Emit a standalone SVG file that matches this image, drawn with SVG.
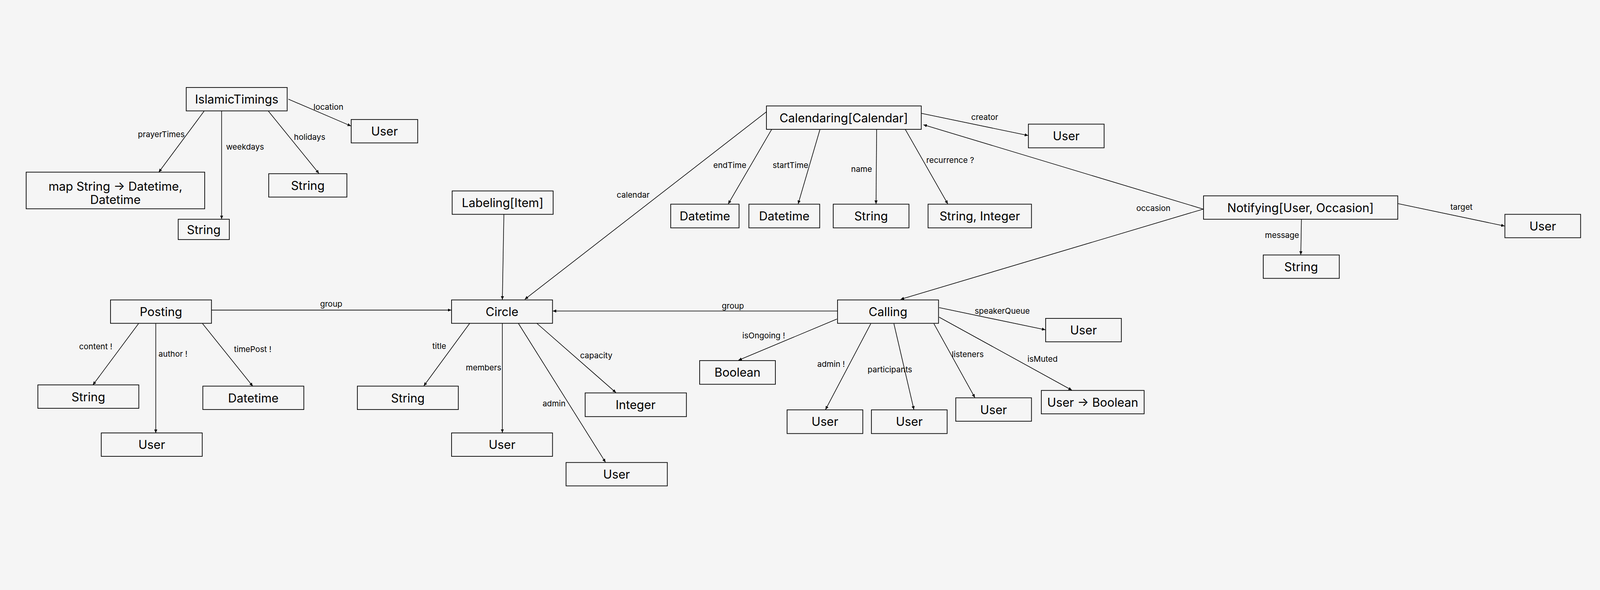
<svg xmlns="http://www.w3.org/2000/svg" width="5198" height="1510" viewBox="0 0 5198 1510">
<defs>
<marker id="arr" markerUnits="userSpaceOnUse" markerWidth="12" markerHeight="12" refX="11" refY="6" orient="auto">
<path d="M0,1 L11,6 L0,11 z" fill="#000"/>
</marker>
<style>
svg{width:100vw;height:100vh;background:#f5f5f5}
.n rect{fill:none;stroke:#000;stroke-width:2.3}
.n text{font-family:Inter,"Noto Sans",sans-serif;font-size:39px;fill:#000;text-anchor:middle;dominant-baseline:central}
.e line{stroke:#000;stroke-width:2;marker-end:url(#arr)}
.l text{font-family:Inter,"Noto Sans",sans-serif;font-size:26px;fill:#000;text-anchor:middle;dominant-baseline:central}
</style>
</defs>
<rect width="5198" height="1510" fill="#f5f5f5"/>
<g id="connectors" class="e">
<line x1="663" y1="158" x2="516" y2="356"/>
<line x1="720" y1="157" x2="720" y2="508"/>
<line x1="872" y1="158" x2="1036" y2="360"/>
<line x1="937" y1="119" x2="1140" y2="206"/>
<line x1="2490" y1="160" x2="1705" y2="769"/>
<line x1="2507" y1="217" x2="2366" y2="459"/>
<line x1="2664" y1="217" x2="2593" y2="459"/>
<line x1="2848" y1="217" x2="2846" y2="459"/>
<line x1="2941" y1="217" x2="3079" y2="459"/>
<line x1="2993" y1="165" x2="3340" y2="237"/>
<line x1="3909" y1="476" x2="3000" y2="202"/>
<line x1="3909" y1="476" x2="2926" y2="769"/>
<line x1="4541" y1="458" x2="4888" y2="531"/>
<line x1="4228" y1="509" x2="4226" y2="624"/>
<line x1="687" y1="804" x2="1466" y2="804"/>
<line x1="450" y1="848" x2="302" y2="1047"/>
<line x1="506" y1="848" x2="506" y2="1203"/>
<line x1="658" y1="848" x2="821" y2="1051"/>
<line x1="1637" y1="493" x2="1632" y2="770"/>
<line x1="1526" y1="847" x2="1377" y2="1050"/>
<line x1="1632" y1="847" x2="1632" y2="1202"/>
<line x1="1684" y1="847" x2="1967" y2="1298"/>
<line x1="1744" y1="847" x2="2001" y2="1072"/>
<line x1="2721" y1="807" x2="1796" y2="807"/>
<line x1="2719" y1="833" x2="2399" y2="967"/>
<line x1="2829" y1="848" x2="2682" y2="1127"/>
<line x1="2904" y1="848" x2="2969" y2="1127"/>
<line x1="3034" y1="848" x2="3167" y2="1088"/>
<line x1="3051" y1="827" x2="3482" y2="1064"/>
<line x1="3051" y1="796" x2="3396" y2="868"/>
</g>
<g id="edge-labels" class="l">
<text x="524" y="233">prayerTimes</text>
<text x="796" y="274">weekdays</text>
<text x="1006" y="242">holidays</text>
<text x="1067" y="144">location</text>
<text x="2057" y="429">calendar</text>
<text x="2371" y="333">endTime</text>
<text x="2568" y="333">startTime</text>
<text x="2799" y="346">name</text>
<text x="3087" y="317">recurrence ?</text>
<text x="3199" y="177">creator</text>
<text x="3747" y="473">occasion</text>
<text x="4748" y="469">target</text>
<text x="4165" y="560">message</text>
<text x="1076" y="784">group</text>
<text x="311" y="922">content !</text>
<text x="562" y="946">author !</text>
<text x="821" y="931">timePost !</text>
<text x="1427" y="921">title</text>
<text x="1571" y="990">members</text>
<text x="1800" y="1107">admin</text>
<text x="1937" y="951">capacity</text>
<text x="2381" y="790">group</text>
<text x="2481" y="886">isOngoing !</text>
<text x="2700" y="979">admin !</text>
<text x="2891" y="997">participants</text>
<text x="3144" y="947">listeners</text>
<text x="3387" y="962">isMuted</text>
<text x="3256" y="807">speakerQueue</text>
</g>
<g id="islamic-timings" class="n"><rect x="605" y="81" width="328" height="76"/><text x="769" y="119">IslamicTimings</text></g>
<g id="it-user" class="n"><rect x="1141" y="185" width="216" height="76"/><text x="1249" y="223">User</text></g>
<g id="it-map" class="n"><rect x="85" y="356" width="580" height="119"/><text x="375" y="401">map String → Datetime,</text><text x="375" y="445">Datetime</text></g>
<g id="it-weekdays" class="n"><rect x="579" y="509" width="166" height="66"/><text x="662" y="542">String</text></g>
<g id="it-holidays" class="n"><rect x="873" y="361" width="254" height="76"/><text x="1000" y="399">String</text></g>
<g id="calendaring" class="n"><rect x="2490" y="141" width="503" height="76"/><text x="2741" y="179">Calendaring[Calendar]</text></g>
<g id="cal-user" class="n"><rect x="3341" y="200" width="246" height="77"/><text x="3464" y="238">User</text></g>
<g id="cal-end" class="n"><rect x="2179" y="460" width="222" height="77"/><text x="2290" y="498">Datetime</text></g>
<g id="cal-start" class="n"><rect x="2433" y="460" width="230" height="77"/><text x="2548" y="498">Datetime</text></g>
<g id="cal-name" class="n"><rect x="2707" y="460" width="246" height="77"/><text x="2830" y="498">String</text></g>
<g id="cal-rec" class="n"><rect x="3015" y="460" width="336" height="77"/><text x="3183" y="498">String, Integer</text></g>
<g id="notifying" class="n"><rect x="3910" y="433" width="631" height="76"/><text x="4225" y="471">Notifying[User, Occasion]</text></g>
<g id="not-user" class="n"><rect x="4889" y="493" width="246" height="76"/><text x="5012" y="531">User</text></g>
<g id="not-msg" class="n"><rect x="4104" y="625" width="247" height="76"/><text x="4227" y="663">String</text></g>
<g id="labeling" class="n"><rect x="1469" y="417" width="328" height="76"/><text x="1633" y="455">Labeling[Item]</text></g>
<g id="posting" class="n"><rect x="359" y="771" width="328" height="76"/><text x="523" y="809">Posting</text></g>
<g id="post-content" class="n"><rect x="123" y="1047" width="328" height="76"/><text x="287" y="1085">String</text></g>
<g id="post-time" class="n"><rect x="659" y="1051" width="328" height="76"/><text x="823" y="1089">Datetime</text></g>
<g id="post-author" class="n"><rect x="329" y="1203" width="328" height="76"/><text x="493" y="1241">User</text></g>
<g id="circle" class="n"><rect x="1467" y="771" width="328" height="76"/><text x="1631" y="809">Circle</text></g>
<g id="circle-title" class="n"><rect x="1161" y="1051" width="328" height="76"/><text x="1325" y="1089">String</text></g>
<g id="circle-members" class="n"><rect x="1467" y="1203" width="328" height="76"/><text x="1631" y="1241">User</text></g>
<g id="circle-admin" class="n"><rect x="1839" y="1299" width="329" height="76"/><text x="2003" y="1337">User</text></g>
<g id="circle-capacity" class="n"><rect x="1901" y="1073" width="329" height="77"/><text x="2065" y="1111">Integer</text></g>
<g id="calling" class="n"><rect x="2721" y="771" width="328" height="76"/><text x="2885" y="809">Calling</text></g>
<g id="call-ongoing" class="n"><rect x="2273" y="968" width="246" height="77"/><text x="2396" y="1006">Boolean</text></g>
<g id="call-admin" class="n"><rect x="2557" y="1128" width="246" height="77"/><text x="2680" y="1166">User</text></g>
<g id="call-participants" class="n"><rect x="2831" y="1128" width="246" height="77"/><text x="2954" y="1166">User</text></g>
<g id="call-listeners" class="n"><rect x="3105" y="1089" width="246" height="76"/><text x="3228" y="1127">User</text></g>
<g id="call-muted" class="n"><rect x="3383" y="1065" width="334" height="76"/><text x="3550" y="1103">User → Boolean</text></g>
<g id="call-speaker" class="n"><rect x="3397" y="831" width="246" height="76"/><text x="3520" y="869">User</text></g>
</svg>
